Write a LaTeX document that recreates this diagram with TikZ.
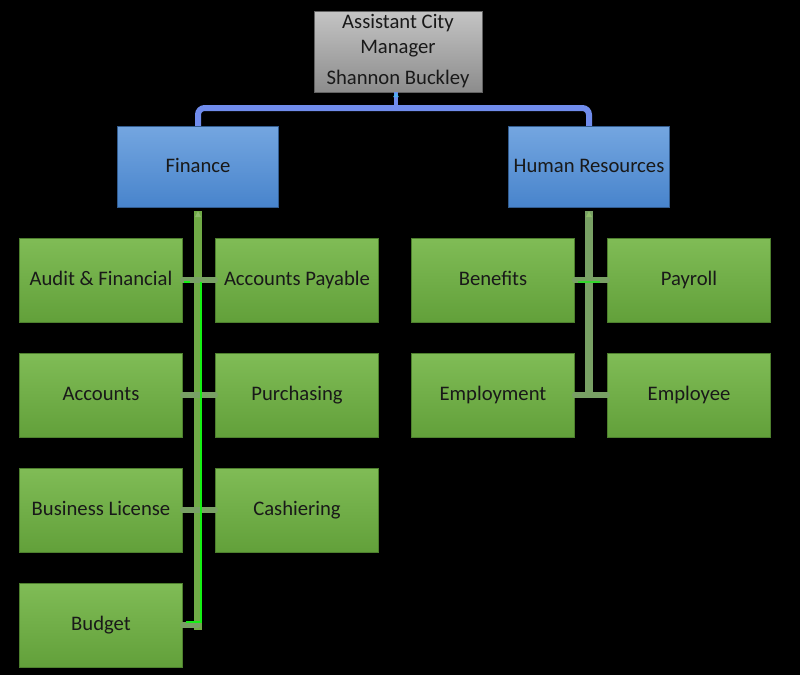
\documentclass[tikz,border=0pt]{standalone}
\usepackage{fontspec}
\setmainfont{Carlito}
\usetikzlibrary{calc}
\definecolor{gtop}{RGB}{128,188,86}
\definecolor{gbot}{RGB}{98,160,58}
\definecolor{btop}{RGB}{116,166,224}
\definecolor{bbot}{RGB}{72,132,204}
\definecolor{ytop}{RGB}{196,196,196}
\definecolor{ybot}{RGB}{140,140,140}
\definecolor{busblue}{RGB}{112,140,236}
\definecolor{trunkgreen}{RGB}{112,170,70}
\definecolor{stubgreen}{RGB}{120,160,100}
\definecolor{brightgreen}{RGB}{20,240,20}
\begin{document}
\begin{tikzpicture}[x=0.75pt,y=-0.75pt,
  box/.style={minimum width=163*0.75pt, minimum height=84*0.75pt, inner sep=0pt,
    font=\fontsize{15.5}{18.5}\selectfont, text=black!90, draw=gbot!80!black, line width=0.3pt},
  onel/.style={text height=2.2ex, text depth=0.45ex},
  gbox/.style={box, onel, top color=gtop, bottom color=gbot},
  bbox/.style={box, onel, top color=btop, bottom color=bbot, minimum width=161*0.75pt, minimum height=81*0.75pt, draw=bbot!70!black},
  ybox/.style={box, top color=ytop, bottom color=ybot, minimum width=168*0.75pt, minimum height=81*0.75pt, draw=ybot!70!black, align=center},
  bus/.style={draw=busblue, line width=4.5pt, rounded corners=5pt},
  trunk/.style={draw=trunkgreen, line width=6pt},
  stub/.style={draw=stubgreen, line width=4pt, line cap=round},
  bright/.style={draw=brightgreen, line width=2pt}
]
\useasboundingbox[fill=black] (0,0) rectangle (800,675);

% top
\node[ybox] (acm) at (398,51.5) {Assistant City\\Manager\\[5pt]Shannon Buckley};
\node[bbox] (fin) at (198,166.5) {Finance};
\node[bbox] (hr) at (589,166.5) {Human Resources};

% finance children
\node[gbox] (aud) at (101,280) {Audit \& Financial};
\node[gbox] (ap)  at (297,280) {Accounts Payable};
\node[gbox] (acc) at (101,395) {Accounts};
\node[gbox] (pur) at (297,395) {Purchasing};
\node[gbox] (bl)  at (101,510) {Business License};
\node[gbox] (cash) at (297,510) {Cashiering};
\node[gbox] (bud) at (101,625) {Budget};

% HR children
\node[gbox] (ben) at (493,280) {Benefits};
\node[gbox] (pay) at (689,280) {Payroll};
\node[gbox] (emp) at (493,395) {Employment};
\node[gbox] (empl) at (689,395) {Employee};

% blue bus
\coordinate (busc) at (396,108);
\draw[bus] (fin.north) |- (busc) -| (hr.north);
\draw[draw=busblue, line width=3pt] (acm.south -| busc) -- (busc);
\fill[busblue!70!cyan] ($(acm.south -| busc)+(-3,5)$) -- ($(acm.south -| busc)+(0,0)$) -- ($(acm.south -| busc)+(3,5)$) -- cycle;

% finance trunk
\coordinate (ftop) at ($(fin.south)+(0,4)$);
\draw[trunk] (ftop) -- (fin.south |- 0,630);
\fill[trunkgreen!80!white] ($(fin.south)+(-3,10)$) -- (ftop) -- ($(fin.south)+(3,10)$) -- cycle;
\foreach \a/\b in {aud/ap, acc/pur, bl/cash} \draw[stub] (\a.east) -- (\b.west);
\draw[stub] (bud.east) -- (fin.south |- bud.east);
\draw[bright] (201,282) -- (201,622) -- ($(bud.east)+(3,-3)$);
\draw[bright] (184,282) -- (190,282);

% HR trunk
\coordinate (htop) at ($(hr.south)+(0,4)$);
\draw[draw=stubgreen, line width=6pt] (htop) -- (hr.south |- 0,398);
\fill[trunkgreen!80!white] ($(hr.south)+(-3,10)$) -- (htop) -- ($(hr.south)+(3,10)$) -- cycle;
\draw[stub] (ben.east) -- (pay.west);
\draw[stub] (emp.east) -- (empl.west);
\draw[draw=brightgreen!70!stubgreen, line width=2pt] (578,282) -- (600,282);
\end{tikzpicture}
\end{document}
